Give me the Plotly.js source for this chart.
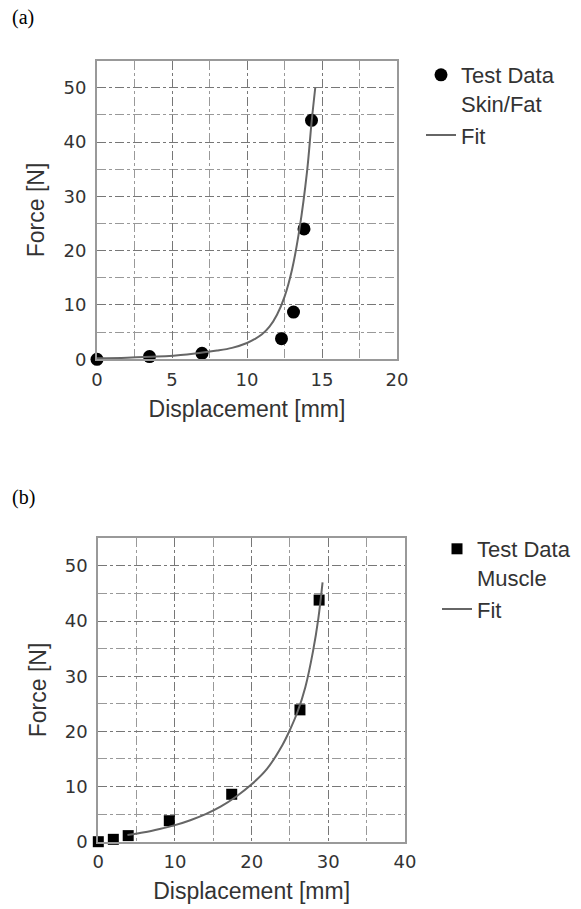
<!DOCTYPE html>
<html>
<head>
<meta charset="utf-8">
<script src="https://cdn.plot.ly/plotly-3.0.1.min.js"></script>
<style>html,body{margin:0;padding:0;background:#fff;}#chart{width:581px;height:909px;}</style>
</head>
<body>
<div id="chart"></div>
<script>
// Panel (a): Skin/Fat
const skinTestX = [0, 3.5, 7.0, 12.3, 13.1, 13.8, 14.3];
const skinTestY = [0, 0.5, 1.1, 3.8, 8.7, 24.0, 44.0];
const skinFitX = [0, 2, 4, 6, 8, 9, 10, 10.5, 11, 11.5, 12, 12.5, 13, 13.5, 14, 14.3, 14.55];
const skinFitY = [0.2, 0.3, 0.5, 0.9, 1.6, 2.1, 3.0, 3.7, 4.6, 6.0, 8.2, 11.5, 16.5, 24.0, 34.5, 43.5, 50.0];

// Panel (b): Muscle
const muscleTestX = [0, 1.96, 3.9, 9.26, 17.4, 26.3, 28.8];
const muscleTestY = [0, 0.43, 1.1, 3.8, 8.6, 23.9, 43.8];
const muscleFitX = [3.8, 6, 8, 10, 12, 14, 16, 18, 20, 22, 24, 25, 26, 27, 28, 28.7, 29.25];
const muscleFitY = [1.2, 1.7, 2.3, 3.0, 3.9, 5.0, 6.4, 8.2, 10.4, 13.2, 17.5, 20.3, 23.6, 28.0, 34.5, 40.5, 47.0];

const xTicksA = [0, 5, 10, 15, 20];
const xTicksB = [0, 10, 20, 30, 40];
const yTicks = [0, 10, 20, 30, 40, 50];

const W = 581, H = 909;
const px = v => v / W;
const py = v => 1 - v / H;

const textFont = {family: 'Liberation Sans, Arial, sans-serif', size: 23, color: '#333'};
const legendFont = {family: 'Liberation Sans, Arial, sans-serif', size: 22, color: '#333'};
const tickFont = {family: 'DejaVu Sans, sans-serif', size: 18, color: '#333'};

function axisBase(extra) {
  return Object.assign({
    showline: true, mirror: true, linecolor: '#999', linewidth: 2,
    showgrid: true, gridcolor: '#777', gridwidth: 1, griddash: 'dashdot',
    zeroline: false, ticks: '', tickfont: tickFont, fixedrange: true,
  }, extra);
}
const minorGrid = d => ({dtick: d, tick0: 0, showgrid: true, gridcolor: '#999', griddash: 'dashdot', gridwidth: 1});

const traces = [
  {x: skinTestX, y: skinTestY, xaxis: 'x', yaxis: 'y', type: 'scatter', mode: 'markers',
   name: 'Test Data<br>Skin/Fat', cliponaxis: false, legend: 'legend',
   marker: {symbol: 'circle', size: 13, color: '#000'}},
  {x: skinFitX, y: skinFitY, xaxis: 'x', yaxis: 'y', type: 'scatter', mode: 'lines',
   name: 'Fit', cliponaxis: false, legend: 'legend',
   line: {color: '#666', width: 2, shape: 'spline', smoothing: 1}},
  {x: muscleTestX, y: muscleTestY, xaxis: 'x2', yaxis: 'y2', type: 'scatter', mode: 'markers',
   name: 'Test Data<br>Muscle', cliponaxis: false, legend: 'legend2',
   marker: {symbol: 'square', size: 11, color: '#000'}},
  {x: muscleFitX, y: muscleFitY, xaxis: 'x2', yaxis: 'y2', type: 'scatter', mode: 'lines',
   name: 'Fit', cliponaxis: false, legend: 'legend2',
   line: {color: '#666', width: 2, shape: 'spline', smoothing: 1}}
];

const layout = {
  width: W, height: H,
  margin: {l: 0, r: 0, t: 0, b: 0},
  paper_bgcolor: '#fff', plot_bgcolor: '#fff',
  showlegend: true,
  xaxis: axisBase({domain: [px(97), px(397)], range: [0, 20], anchor: 'y',
    tickvals: xTicksA, ticktext: xTicksA.map(String), ticklabelstandoff: 3,
    minor: minorGrid(2.5),
    title: {text: 'Displacement [mm]', font: textFont, standoff: 12}}),
  yaxis: axisBase({domain: [1 - 359.3 / H, 1 - 60.6 / H], range: [0, 55], anchor: 'x',
    tickvals: yTicks, ticktext: yTicks.map(String), ticklabelstandoff: 5,
    minor: minorGrid(5),
    title: {text: 'Force [N]', font: textFont, standoff: 12}}),
  xaxis2: axisBase({domain: [px(98.3), px(405)], range: [0, 40], anchor: 'y2',
    tickvals: xTicksB, ticktext: xTicksB.map(String), ticklabelstandoff: 3,
    minor: minorGrid(5),
    title: {text: 'Displacement [mm]', font: textFont, standoff: 12}}),
  yaxis2: axisBase({domain: [1 - 841.7 / H, 1 - 538.3 / H], range: [0, 55], anchor: 'x2',
    tickvals: yTicks, ticktext: yTicks.map(String), ticklabelstandoff: 5,
    minor: minorGrid(5),
    title: {text: 'Force [N]', font: textFont, standoff: 12}}),
  legend: {x: px(421), y: py(54), xanchor: 'left', yanchor: 'top',
    font: legendFont, bgcolor: 'rgba(0,0,0,0)', borderwidth: 0, valign: 'top', tracegroupgap: 0},
  legend2: {x: px(437), y: py(528), xanchor: 'left', yanchor: 'top',
    font: legendFont, bgcolor: 'rgba(0,0,0,0)', borderwidth: 0, valign: 'top', tracegroupgap: 0},
  annotations: [
    {text: '(a)', x: px(10), y: py(17), xref: 'paper', yref: 'paper', xanchor: 'left', yanchor: 'middle',
     showarrow: false, font: {family: 'Liberation Serif, Times New Roman, serif', size: 20, color: '#000'}},
    {text: '(b)', x: px(10), y: py(498), xref: 'paper', yref: 'paper', xanchor: 'left', yanchor: 'middle',
     showarrow: false, font: {family: 'Liberation Serif, Times New Roman, serif', size: 20, color: '#000'}}
  ]
};

Plotly.newPlot('chart', traces, layout, {staticPlot: true, displayModeBar: false});
</script>
</body>
</html>
